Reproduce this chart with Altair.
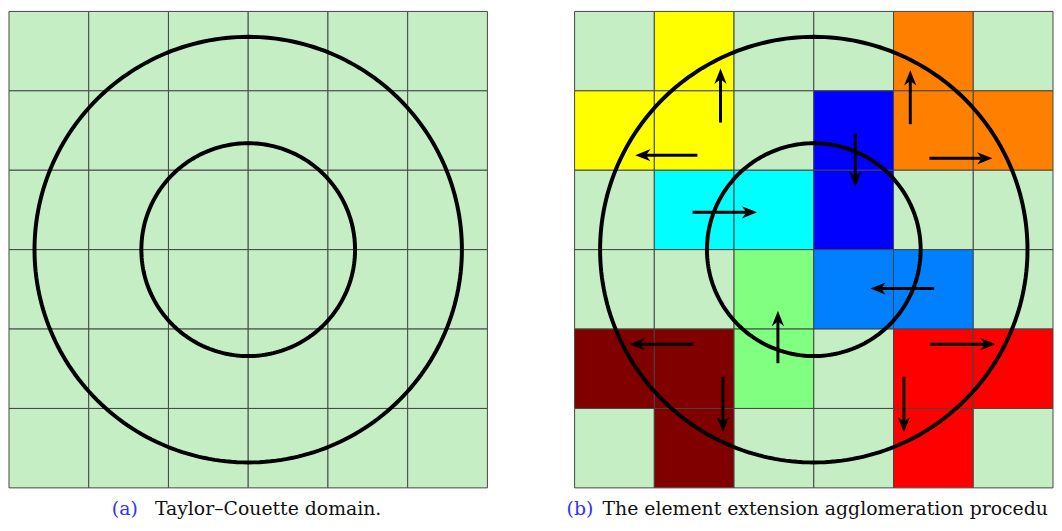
import altair as alt
import pandas as pd
import numpy as np

# ---------------- data ----------------
N_CELLS = 6
palette = {
    "G": "#c5eec5", "Y": "#ffff00", "O": "#ff8000", "B": "#0000ff", "C": "#00ffff",
    "L": "#80ff80", "A": "#0080ff", "M": "#800000", "R": "#ff0000",
}
cells_a = ["GGGGGG", "GGGGGG", "GGGGGG", "GGGGGG", "GGGGGG", "GGGGGG"]
cells_b = ["GYGGOG", "YYGBOO", "GCCBGG", "GGLAAG", "MMLGRR", "GMGGRG"]

circle_center = [3.0, 3.0]
circle_radii = [2.68, 1.34]

# arrows of panel (b): start and end in cell units (column from left, row from top)
arrow_x0 = [1.83, 1.54, 4.21, 4.45, 3.52, 1.48, 4.51, 4.46, 4.13, 2.55, 1.49, 1.86]
arrow_y0 = [1.40, 1.81, 1.42, 1.85, 1.54, 2.53, 3.49, 4.19, 4.60, 4.43, 4.19, 4.60]
arrow_x1 = [1.83, 0.76, 4.21, 5.24, 3.52, 2.29, 3.71, 5.28, 4.13, 2.55, 0.69, 1.86]
arrow_y1 = [0.72, 1.81, 0.74, 1.85, 2.21, 2.53, 3.49, 4.19, 5.30, 3.77, 4.19, 5.30]

caption_labels = ["(a)", "(b)"]
caption_texts = ["Taylor\u2013Couette domain.", "The element extension agglomeration procedure."]
caption_label_x = [1.29, -0.10]
caption_text_x = [1.83, 0.35]
caption_y = 6.34

# ---------------- helpers ----------------
W, H, SP = 483, 481, 78
xs = alt.Scale(domain=[0, N_CELLS], nice=False, zero=False)
ys = alt.Scale(domain=[0, N_CELLS], nice=False, zero=False, reverse=True)


def panel(cells, arrows, idx):
    rows = []
    for r, line in enumerate(cells):
        for c, ch in enumerate(line):
            rows.append({"c": c, "c2": c + 1, "r": r, "r2": r + 1, "fill": palette[ch]})
    cdf = pd.DataFrame(rows)
    rects = alt.Chart(cdf).mark_rect(stroke="#454545", strokeWidth=1).encode(
        x=alt.X("c:Q", scale=xs, axis=None),
        x2="c2:Q",
        y=alt.Y("r:Q", scale=ys, axis=None),
        y2="r2:Q",
        fill=alt.Fill("fill:N", scale=None),
    )

    t = np.linspace(0, 2 * np.pi, 241)
    circ = []
    for k, rad in enumerate(circle_radii):
        for i, tt in enumerate(t):
            circ.append({"k": k, "i": i,
                         "x": circle_center[0] + rad * np.cos(tt),
                         "y": circle_center[1] + rad * np.sin(tt)})
    circles = alt.Chart(pd.DataFrame(circ)).mark_line(
        color="black", strokeWidth=4, clip=False
    ).encode(
        x=alt.X("x:Q", scale=xs, axis=None),
        y=alt.Y("y:Q", scale=ys, axis=None),
        detail="k:N",
        order="i:Q",
    )

    layers = [rects, circles]

    if arrows is not None:
        adf = pd.DataFrame(arrows)
        dx = adf["x1"] - adf["x0"]
        dy = adf["y1"] - adf["y0"]
        ln = np.sqrt(dx ** 2 + dy ** 2)
        adf["xs"] = adf["x1"] - 0.1 * dx / ln
        adf["ys"] = adf["y1"] - 0.1 * dy / ln
        adf["angle"] = (np.degrees(np.arctan2(dx, -dy)) + 360) % 360
        shafts = alt.Chart(adf).mark_rule(color="black", strokeWidth=3).encode(
            x=alt.X("x0:Q", scale=xs, axis=None),
            y=alt.Y("y0:Q", scale=ys, axis=None),
            x2="xs:Q",
            y2="ys:Q",
        )
        heads = alt.Chart(adf).mark_point(
            shape="M0,0L0.8,2L0,1.4L-0.8,2Z", filled=True, size=240,
            color="black", opacity=1, strokeWidth=0,
        ).encode(
            x=alt.X("x1:Q", scale=xs, axis=None),
            y=alt.Y("y1:Q", scale=ys, axis=None),
            angle=alt.Angle("angle:Q", scale=None),
        )
        layers += [shafts, heads]

    lab = pd.DataFrame({"x": [caption_label_x[idx]], "y": [caption_y], "t": [caption_labels[idx]]})
    txt = pd.DataFrame({"x": [caption_text_x[idx]], "y": [caption_y], "t": [caption_texts[idx]]})
    label = alt.Chart(lab).mark_text(
        align="left", baseline="alphabetic", font="DejaVu Serif", fontSize=19, color="#3030ff"
    ).encode(x=alt.X("x:Q", scale=xs, axis=None), y=alt.Y("y:Q", scale=ys, axis=None), text="t:N")
    body = alt.Chart(txt).mark_text(
        align="left", baseline="alphabetic", font="DejaVu Serif", fontSize=19, color="#111111",
        limit=450, ellipsis="\u200b",
    ).encode(x=alt.X("x:Q", scale=xs, axis=None), y=alt.Y("y:Q", scale=ys, axis=None), text="t:N")
    layers += [label, body]

    return alt.layer(*layers).properties(width=W, height=H)


arrows_b = {"x0": arrow_x0, "y0": arrow_y0, "x1": arrow_x1, "y1": arrow_y1}

chart = alt.hconcat(
    panel(cells_a, None, 0), panel(cells_b, arrows_b, 1), spacing=SP
).properties(padding=0).configure_view(stroke=None)

chart.save("out.html", embed_options={"renderer": "svg", "actions": False})
